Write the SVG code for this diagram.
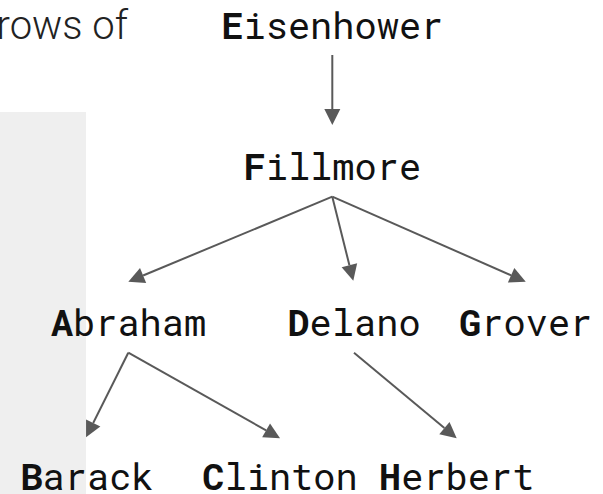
<svg xmlns="http://www.w3.org/2000/svg" width="603" height="494" viewBox="0 0 603 494">
  <style>
    .label { font-family: "Roboto Mono", "DejaVu Sans Mono", "Liberation Mono", monospace; font-size: 37px; fill: #111; text-anchor: middle; }
    .label tspan.init { font-weight: bold; }
    .edge { stroke: #595959; stroke-width: 2; fill: none; marker-end: url(#arrow); }
    .caption { font-family: Roboto, "Noto Sans", "Liberation Sans", sans-serif; font-weight: 300; font-size: 40px; fill: #222; text-anchor: end; }
  </style>
  <defs>
    <marker id="arrow" markerUnits="userSpaceOnUse" markerWidth="16" markerHeight="16" viewBox="0 0 16 16" refX="0" refY="8" orient="auto" overflow="visible">
      <path d="M0,0 L16,8 L0,16 Z" fill="#595959"/>
    </marker>
  </defs>
  <rect width="603" height="494" fill="#ffffff"/>
  <rect id="panel" x="0" y="112" width="86" height="382" fill="#efefef"/>
  <text id="caption" class="caption" x="128" y="39">rows of</text>
  <g id="connectors">
    <line class="edge" x1="332.3" y1="55" x2="332.3" y2="109"/>
    <line class="edge" x1="332.3" y1="196.7" x2="143.1" y2="275.5"/>
    <line class="edge" x1="332.3" y1="196.7" x2="349.4" y2="265.2"/>
    <line class="edge" x1="332.3" y1="196.7" x2="511.1" y2="275.3"/>
    <line class="edge" x1="128.3" y1="352.7" x2="93.2" y2="423.0"/>
    <line class="edge" x1="128.3" y1="352.7" x2="266.1" y2="430.4"/>
    <line class="edge" x1="354" y1="352.7" x2="444.4" y2="428.1"/>
  </g>
  <g id="node-eisenhower"><text class="label" x="332.3" y="39"><tspan class="init">E</tspan>isenhower</text></g>
  <g id="node-fillmore"><text class="label" x="332.3" y="180"><tspan class="init">F</tspan>illmore</text></g>
  <g id="node-abraham"><text class="label" x="128.5" y="336"><tspan class="init">A</tspan>braham</text></g>
  <g id="node-delano"><text class="label" x="354" y="336"><tspan class="init">D</tspan>elano</text></g>
  <g id="node-grover"><text class="label" x="525.7" y="336"><tspan class="init">G</tspan>rover</text></g>
  <g id="node-barack"><text class="label" x="87" y="490"><tspan class="init">B</tspan>arack</text></g>
  <g id="node-clinton"><text class="label" x="280" y="490"><tspan class="init">C</tspan>linton</text></g>
  <g id="node-herbert"><text class="label" x="456.7" y="490"><tspan class="init">H</tspan>erbert</text></g>
</svg>
